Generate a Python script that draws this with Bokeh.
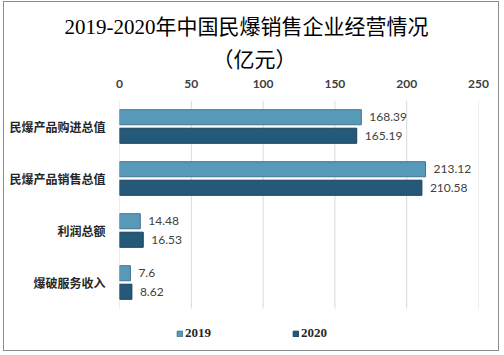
from bokeh.plotting import figure
from bokeh.models import (Range1d, Legend, LegendItem, ColumnDataSource,
                          FixedTicker, Title)
from bokeh.transform import dodge
from bokeh.embed import file_html
from bokeh.resources import INLINE

categories = ["民爆产品购进总值", "民爆产品销售总值", "利润总额", "爆破服务收入"]
series_names = ["2019", "2020"]
values_2019 = [168.39, 213.12, 14.48, 7.6]
values_2020 = [165.19, 210.58, 16.53, 8.62]
x_ticks = [0, 50, 100, 150, 200, 250]
title_line1 = "2019-2020年中国民爆销售企业经营情况"
title_line2 = "（亿元）"

colors = ["#5799b8", "#24597a"]
edge = ["#41758d", "#173f57"]

n = len(categories)
ypos = [n - 1 - i for i in range(n)]  # first category at the top

src = ColumnDataSource(dict(
    y=ypos,
    cat=categories,
    v2019=values_2019,
    v2020=values_2020,
    t2019=[f"{v:g}" for v in values_2019],
    t2020=[f"{v:g}" for v in values_2020],
))

p = figure(width=496, height=350, output_backend="svg", toolbar_location=None,
           y_range=Range1d(-1.308, n - 0.5),
           x_range=(x_ticks[0], x_ticks[-1]), x_axis_location="above",
           min_border_left=115, min_border_right=22,
           min_border_top=98, min_border_bottom=2)
p.styles = {"border": "1px solid #8c8c8c", "margin-left": "3px", "margin-top": "1px"}
p.outline_line_color = None
p.background_fill_color = "white"
p.border_fill_color = "white"

# vertical gridlines spanning only the category band
p.segment(x0=x_ticks, x1=x_ticks, y0=[-0.5] * len(x_ticks), y1=[n - 0.5] * len(x_ticks),
          line_color="#d9d9d9", line_width=1)

off = 0.178
bh = 0.29
r1 = p.hbar(y=dodge("y", off), right="v2019", left=0, height=bh,
            source=src, fill_color=colors[0], line_color=edge[0], line_width=1)
r2 = p.hbar(y=dodge("y", -off), right="v2020", left=0, height=bh,
            source=src, fill_color=colors[1], line_color=edge[1], line_width=1)

for col, d in (("2019", off), ("2020", -off)):
    p.text(x="v" + col, y=dodge("y", d), text="t" + col, source=src,
           x_offset=8, text_align="left", text_baseline="middle",
           text_font_size="12px", text_color="#404040", text_font={"value": "Lato"})

p.xaxis.ticker = FixedTicker(ticks=x_ticks)
p.xaxis.axis_line_color = None
p.xaxis.major_tick_line_color = None
p.xaxis.minor_tick_line_color = None
p.xaxis.major_label_text_font = "Lato"
p.xaxis.major_label_text_font_style = "bold"
p.xaxis.major_label_text_font_size = "12px"
p.xaxis.major_label_text_color = "#404040"
p.xaxis.major_label_standoff = 7

p.yaxis.ticker = FixedTicker(ticks=ypos)
p.yaxis.major_label_overrides = {y: c for y, c in zip(ypos, categories)}
p.yaxis.axis_line_color = None
p.yaxis.major_tick_line_color = None
p.yaxis.minor_tick_line_color = None
p.yaxis.major_label_text_font = "Noto Sans CJK SC"
p.yaxis.major_label_text_font_style = "bold"
p.yaxis.major_label_text_font_size = "12px"
p.yaxis.major_label_text_color = "#262626"
p.yaxis.major_label_standoff = 8

p.xgrid.grid_line_color = None
p.ygrid.grid_line_color = None

title_font = "'Liberation Serif', 'Noto Sans CJK SC', serif"
p.add_layout(Title(text=title_line2, align="left", offset=93, text_font=title_font,
                   text_font_size="21px", text_font_style="normal", text_color="#000000",
                   standoff=10), "above")
p.add_layout(Title(text=title_line1, align="left", offset=-55, text_font=title_font,
                   text_font_size="21px", text_font_style="normal", text_color="#000000",
                   standoff=4), "above")

legend = Legend(items=[LegendItem(label=series_names[0], renderers=[r1]),
                       LegendItem(label=series_names[1], renderers=[r2])],
                location=(57, 9), orientation="horizontal",
                glyph_width=7, glyph_height=7, label_standoff=2, spacing=81,
                label_text_font="'Liberation Serif', serif", label_text_font_style="bold",
                label_text_font_size="13px", label_text_color="#262626",
                label_height=14, padding=0, margin=0,
                border_line_color=None, background_fill_alpha=0)
p.add_layout(legend, "center")

open("out.html", "w").write(file_html(p, INLINE))
